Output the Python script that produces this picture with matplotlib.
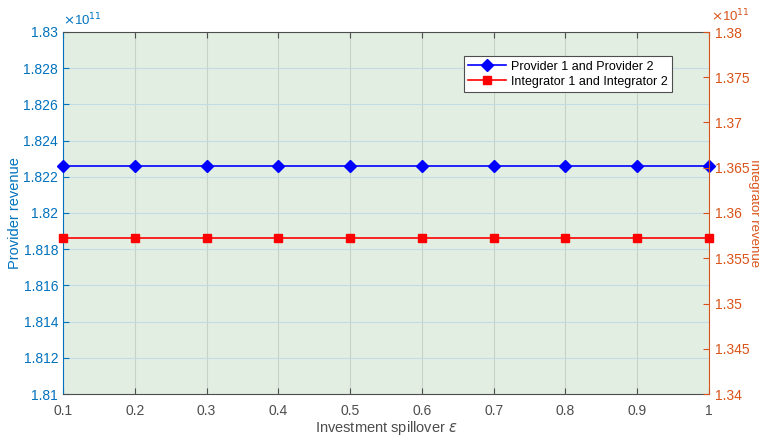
import numpy as np
import matplotlib.pyplot as plt

plt.rcParams['font.family'] = ['Liberation Sans', 'DejaVu Sans']

# spillover values and revenues (x 1e11)
spillover = [0.1, 0.2, 0.3, 0.4, 0.5, 0.6, 0.7, 0.8, 0.9, 1.0]
provider_rev = [1.82261] * 10
integrator_rev = [1.35720] * 10

left_ticks = [1.81, 1.812, 1.814, 1.816, 1.818, 1.82, 1.822, 1.824, 1.826, 1.828, 1.83]
right_ticks = [1.34, 1.345, 1.35, 1.355, 1.36, 1.365, 1.37, 1.375, 1.38]
x_ticks = [0.1, 0.2, 0.3, 0.4, 0.5, 0.6, 0.7, 0.8, 0.9, 1.0]

c_left = '#0072BD'
c_right = '#D95319'
c_gray = '#4D4D4D'

fig = plt.figure(figsize=(7.59, 4.37), dpi=100)
ax = fig.add_axes([63/759, 1 - 394/437, (709-63)/759, (394-32)/437])
ax.set_facecolor('#E3EEE3')

l1, = ax.plot(spillover, provider_rev, color='blue', marker='D', markersize=6,
              linewidth=1.2, label='Provider 1 and Provider 2', clip_on=False, zorder=5)
ax.set_xlim(0.1, 1.0)
ax.set_ylim(1.81, 1.83)
ax.set_xticks(x_ticks)
ax.set_xticklabels(['0.1', '0.2', '0.3', '0.4', '0.5', '0.6', '0.7', '0.8', '0.9', '1'])
ax.set_yticks(left_ticks)
ax.set_yticklabels(['%g' % t for t in left_ticks])
ax.grid(True, axis='x', color='#C5D3CB', linewidth=0.8)
ax.grid(True, axis='y', color='#C3DCE3', linewidth=0.8)
ax.tick_params(axis='x', direction='in', colors=c_gray, labelsize=10, length=4, top=True, pad=7)
ax.tick_params(axis='y', direction='in', colors=c_left, labelsize=10, length=4)
ax.spines['left'].set_color(c_left)
ax.spines['bottom'].set_color(c_gray)
ax.spines['top'].set_color(c_gray)
ax.spines['right'].set_visible(False)
ax.set_xlabel('Investment spillover $\\epsilon$', color=c_gray, fontsize=10.5, labelpad=1)
ax.set_ylabel('Provider revenue', color=c_left, fontsize=10.5, labelpad=1)
ax.text(0.0, 1.01, r'$\times$10$^{11}$', transform=ax.transAxes, color=c_left,
        fontsize=9.5, ha='left', va='bottom')

ax2 = ax.twinx()
l2, = ax2.plot(spillover, integrator_rev, color='red', marker='s', markersize=6,
               linewidth=1.2, label='Integrator 1 and Integrator 2', clip_on=False, zorder=5)
ax2.set_ylim(1.34, 1.38)
ax2.set_yticks(right_ticks)
ax2.set_yticklabels(['%g' % t for t in right_ticks])
ax2.tick_params(axis='y', direction='in', colors=c_right, labelsize=10, length=4, pad=4)
ax2.spines['right'].set_color(c_right)
ax2.spines['left'].set_visible(False)
ax2.spines['top'].set_visible(False)
ax2.spines['bottom'].set_visible(False)
fig.text(711/759, 1 - 24/437, r'$\times$10$^{11}$', color=c_right,
         fontsize=9.5, ha='left', va='bottom')
fig.text(748/759, 1 - 213/437, 'Integrator revenue', rotation=270, color=c_right,
         fontsize=9.5, ha='left', va='center')

leg = ax2.legend(handles=[l1, l2], loc='upper right', bbox_to_anchor=(615/646, 0.950),
                 fontsize=9, fancybox=False, framealpha=1, edgecolor=c_gray,
                 borderpad=0.35, labelspacing=0.25, handlelength=3.0, handletextpad=0.4)
leg.get_frame().set_linewidth(0.8)

fig.savefig('out.png', dpi=100)
